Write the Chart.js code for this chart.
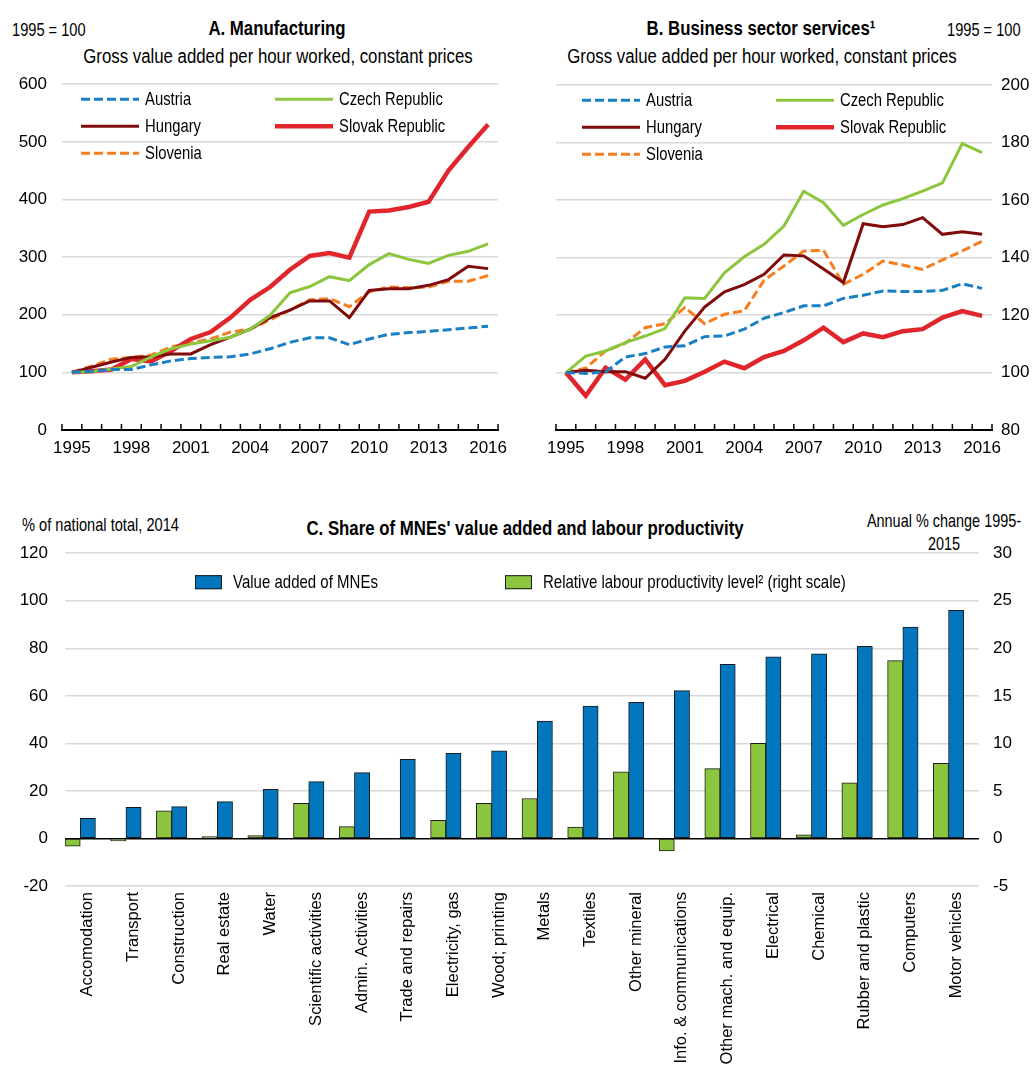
<!DOCTYPE html>
<html>
<head>
<meta charset="utf-8">
<script src="https://cdn.jsdelivr.net/npm/chart.js@4.4.1/dist/chart.umd.min.js"></script>
<style>
  body { margin: 0; background: #fff; width: 1035px; height: 1068px; position: relative; overflow: hidden;
         font-family: "Liberation Sans Narrow", "Arial Narrow", "Liberation Sans", Arial, sans-serif; color: #000; }
  .t { position: absolute; white-space: nowrap; font-size: 19px; line-height: 1;
       transform: scaleX(0.77); transform-origin: 0 50%; }
  .c { text-align: center; transform-origin: 50% 50%; }
  .b { font-weight: bold; font-size: 20px; transform: scaleX(0.84); }
  .s { font-size: 20px; transform: scaleX(0.84); }
  canvas { position: absolute; }
</style>
</head>
<body>
<div class="t" style="left:12px;top:20px">1995 = 100</div>
<div class="t c b" style="left:-23px;width:600px;top:18px">A. Manufacturing</div>
<div class="t c s" style="left:-22px;width:600px;top:46px">Gross value added per hour worked, constant prices</div>

<div class="t" style="left:947px;top:20px">1995 = 100</div>
<div class="t c b" style="left:461px;width:600px;top:18px">B. Business sector services¹</div>
<div class="t c s" style="left:462px;width:600px;top:46px">Gross value added per hour worked, constant prices</div>

<div class="t" style="left:22px;top:515px">% of national total, 2014</div>
<div class="t c b" style="left:175px;width:700px;top:518px">C. Share of MNEs' value added and labour productivity</div>
<div class="t c" style="left:794px;width:300px;top:509px;line-height:23px;transform:scaleX(0.76)">Annual % change 1995-<br>2015</div>

<canvas id="chartA" width="520" height="411" style="left:0;top:59px"></canvas>
<canvas id="chartB" width="515" height="404" style="left:520px;top:66px"></canvas>
<canvas id="chartC" width="1035" height="542" style="left:0;top:526px"></canvas>

<script>
// ---- data ----
const years = ['1995', '1996', '1997', '1998', '1999', '2000', '2001', '2002', '2003', '2004', '2005',
               '2006', '2007', '2008', '2009', '2010', '2011', '2012', '2013', '2014', '2015', '2016'];
const countries = ['Austria', 'Czech Republic', 'Hungary', 'Slovak Republic', 'Slovenia'];

// Panel A: manufacturing, 1995 = 100
const austriaA  = [100, 102, 105, 105, 113, 120, 124, 126, 127, 132, 141, 152, 160, 160, 148, 158, 166, 169, 171, 174, 177, 180];
const czechA    = [100, 101, 106, 110, 127, 141, 149, 155, 161, 175, 199, 238, 249, 266, 259, 287, 306, 296, 289, 303, 310, 323];
const hungaryA  = [100, 109, 118, 126, 127, 132, 132, 148, 161, 175, 195, 208, 224, 224, 195, 242, 245, 245, 251, 261, 284, 280];
const slovakA   = [100, 102, 105, 123, 119, 137, 158, 170, 195, 226, 248, 278, 302, 307, 299, 379, 381, 387, 396, 450, 491, 530];
const sloveniaA = [100, 111, 123, 126, 130, 144, 151, 158, 170, 175, 191, 208, 226, 228, 214, 240, 248, 247, 248, 258, 258, 268];

// Panel B: business sector services, 1995 = 100
const austriaB  = [100, 99.7, 100.2, 105.4, 106.6, 108.9, 109.3, 112.5, 112.7, 115.1, 118.9, 120.9, 123.2, 123.2, 125.8, 126.9, 128.4, 128.2, 128.2, 128.6, 130.9, 129.3];
const czechB    = [100, 105.7, 107.5, 110.4, 112.7, 115.3, 126, 125.8, 134.7, 140.3, 144.6, 151, 163.1, 159.1, 151.2, 155, 158.3, 160.5, 163.1, 166, 179.7, 176.5];
const hungaryB  = [100, 100.8, 100.3, 100.3, 98, 104.6, 114.4, 122.8, 128.1, 130.6, 134.2, 140.9, 140.6, 136, 131.3, 151.8, 150.7, 151.5, 153.9, 148.1, 149, 148.1];
const slovakB   = [100, 91.9, 101.7, 97.5, 104.6, 95.6, 97.1, 100.3, 103.8, 101.5, 105.4, 107.5, 111.2, 115.6, 110.6, 113.6, 112.3, 114.4, 115.1, 119.1, 121.4, 119.7];
const sloveniaB = [100, 101.5, 107.5, 110.2, 115.6, 117, 122.6, 117, 120.3, 121.5, 132.1, 137.1, 142.3, 142.5, 130.7, 134.2, 138.8, 137.4, 135.9, 139.2, 142.3, 145.7];

// Panel C
const sectors = ['Accomodation', 'Transport', 'Construction', 'Real estate', 'Water', 'Scientific activities',
                 'Admin. Activities', 'Trade and repairs', 'Electricity, gas', 'Wood; printing', 'Metals', 'Textiles',
                 'Other mineral', 'Info. & communications', 'Other mach. and equip.', 'Electrical', 'Chemical',
                 'Rubber and plastic', 'Computers', 'Motor vehicles'];
const mneValueAdded = [8.5, 13.1, 13.4, 15.5, 20.7, 23.9, 27.7, 33.3, 35.8, 36.9, 49.4, 55.7, 57.3, 62.2, 73.2, 76.4, 77.7, 80.8, 88.9, 96.0];
const productivityGrowth = [-0.8, -0.25, 2.9, 0.2, 0.3, 3.7, 1.25, 0.05, 1.9, 3.7, 4.2, 1.2, 7.0, -1.3, 7.35, 10.0, 0.38, 5.85, 18.7, 7.9];
const seriesC = ['Value added of MNEs', 'Relative labour productivity level² (right scale)'];

const yTicksA = [0, 100, 200, 300, 400, 500, 600];
const yTicksB = [80, 100, 120, 140, 160, 180, 200];

// ---- styles ----
const FONT = '"Liberation Sans Narrow", "Arial Narrow", "Liberation Sans", Arial, sans-serif';
const GRID = '#d9d9d9';
const TICK_SIZE = 17;
const lineStyles = [
  { borderColor: '#1a7fc3', borderWidth: 3, borderDash: [9, 4] },
  { borderColor: '#8cc63f', borderWidth: 3, borderDash: [] },
  { borderColor: '#7f0b0b', borderWidth: 3, borderDash: [] },
  { borderColor: '#e0262c', borderWidth: 4.5, borderDash: [] },
  { borderColor: '#f47e20', borderWidth: 3, borderDash: [9, 4] }
];

// draws text squeezed horizontally, to stand in for a narrow face
function narrowText(ctx, text, x, y, squeeze) {
  ctx.save();
  ctx.translate(x, y);
  ctx.scale(squeeze, 1);
  ctx.fillText(text, 0, 0);
  ctx.restore();
}

// legend drawn inside the plot area
const insideLegend = {
  id: 'insideLegend',
  afterDraw(chart, args, opts) {
    if (!opts.items) return;
    const ctx = chart.ctx;
    const area = chart.chartArea;
    ctx.save();
    ctx.font = opts.font;
    ctx.textBaseline = 'middle';
    ctx.fillStyle = '#000';
    opts.items.forEach(item => {
      const ds = chart.data.datasets[item.dataset];
      const x = area.left + item.dx;
      const y = area.top + item.dy;
      if (opts.type === 'box') {
        ctx.fillStyle = ds.backgroundColor;
        ctx.fillRect(x, y - 7, 27, 14);
        ctx.strokeStyle = '#1a1a1a';
        ctx.lineWidth = 1;
        ctx.strokeRect(x + 0.5, y - 6.5, 26, 13);
        ctx.fillStyle = '#000';
        narrowText(ctx, ds.label, x + 38, y + 1, 0.79);
      } else {
        ctx.strokeStyle = ds.borderColor;
        ctx.lineWidth = ds.borderWidth;
        ctx.setLineDash(ds.borderDash || []);
        ctx.beginPath();
        ctx.moveTo(x, y);
        ctx.lineTo(x + 58, y);
        ctx.stroke();
        ctx.setLineDash([]);
        narrowText(ctx, ds.label, x + 64, y + 1, 0.78);
      }
    });
    ctx.restore();
  }
};

// small tick marks pointing into the plot at category boundaries
const innerTicks = {
  id: 'innerTicks',
  afterDatasetsDraw(chart, args, opts) {
    if (!opts.enabled) return;
    const ctx = chart.ctx;
    const area = chart.chartArea;
    const n = chart.data.labels.length;
    ctx.save();
    ctx.strokeStyle = '#000';
    ctx.lineWidth = 1.5;
    ctx.beginPath();
    for (let i = 0; i <= n; i++) {
      const x = area.left + i * (area.right - area.left) / n;
      ctx.moveTo(x, area.bottom);
      ctx.lineTo(x, area.bottom - 6);
    }
    ctx.stroke();
    ctx.restore();
  }
};

function lineDatasets(seriesList) {
  return seriesList.map((data, i) => Object.assign({
    label: countries[i],
    data: data,
    fill: false,
    pointRadius: 0,
    tension: 0
  }, lineStyles[i]));
}

function lineChart(id, datasets, yOpts, pad, yWidth, legendLeft) {
  return new Chart(document.getElementById(id), {
    type: 'line',
    data: { labels: years, datasets: datasets },
    options: {
      responsive: false,
      animation: false,
      layout: { padding: pad },
      plugins: {
        legend: { display: false },
        tooltip: { enabled: false },
        innerTicks: { enabled: true },
        insideLegend: {
          font: '19px ' + FONT,
          items: [
            { dataset: 0, dx: legendLeft, dy: 15 },
            { dataset: 1, dx: legendLeft + 194, dy: 15 },
            { dataset: 2, dx: legendLeft, dy: 42 },
            { dataset: 3, dx: legendLeft + 194, dy: 42 },
            { dataset: 4, dx: legendLeft, dy: 69 }
          ]
        }
      },
      scales: {
        x: {
          offset: true,
          grid: { display: false, drawTicks: false },
          border: { display: true, color: '#000', width: 2 },
          ticks: {
            autoSkip: false, maxRotation: 0, padding: 8, color: '#000',
            font: { family: FONT, size: TICK_SIZE },
            callback: (v, i) => (i % 3 === 0 ? years[i] : '')
          },
          afterFit: s => { s.height = 40; }
        },
        y: Object.assign({
          grid: { color: GRID, lineWidth: 1.5, drawTicks: false },
          border: { display: false },
          afterFit: s => { s.width = yWidth; }
        }, yOpts)
      }
    },
    plugins: [insideLegend, innerTicks]
  });
}

lineChart('chartA', lineDatasets([austriaA, czechA, hungaryA, slovakA, sloveniaA]), {
  position: 'left', min: 0, max: 600,
  afterBuildTicks: s => { s.ticks = yTicksA.map(v => ({ value: v })); },
  ticks: { padding: 15, color: '#000', font: { family: FONT, size: TICK_SIZE } }
}, { top: 14, right: 22, left: 0, bottom: 0 }, 62, 19);

lineChart('chartB', lineDatasets([austriaB, czechB, hungaryB, slovakB, sloveniaB]), {
  position: 'right', min: 80, max: 200,
  afterBuildTicks: s => { s.ticks = yTicksB.map(v => ({ value: v })); },
  ticks: { padding: 9, color: '#000', font: { family: FONT, size: TICK_SIZE } }
}, { top: 14, right: 0, left: 36, bottom: 0 }, 43, 26);

// Panel C: bars, plus an empty third slot so each group sits at the left of its category
const emptySlot = sectors.map(() => null);
new Chart(document.getElementById('chartC'), {
  type: 'bar',
  data: {
    labels: sectors,
    datasets: [
      { label: seriesC[1], data: productivityGrowth, yAxisID: 'yR', backgroundColor: '#8cc63f',
        borderColor: '#1a1a1a', borderWidth: 1, borderSkipped: false },
      { label: seriesC[0], data: mneValueAdded, yAxisID: 'yL', backgroundColor: '#0277bd',
        borderColor: '#1a1a1a', borderWidth: 1, borderSkipped: false },
      { label: '', data: emptySlot, yAxisID: 'yL' }
    ]
  },
  options: {
    responsive: false,
    animation: false,
    categoryPercentage: 1,
    barPercentage: 1,
    layout: { padding: { top: 13, left: 0, right: 0, bottom: 0 } },
    plugins: {
      legend: { display: false },
      tooltip: { enabled: false },
      insideLegend: {
        type: 'box',
        font: '19px ' + FONT,
        items: [
          { dataset: 1, dx: 130, dy: 29 },
          { dataset: 0, dx: 440, dy: 29 }
        ]
      }
    },
    scales: {
      x: {
        grid: { display: false, drawTicks: false },
        border: { display: false },
        ticks: {
          autoSkip: false, minRotation: 90, maxRotation: 90, padding: 6, color: '#000',
          font: { family: '"Liberation Sans", Arial, sans-serif', size: 16.5 }
        },
        afterFit: s => { s.height = 182; }
      },
      yL: {
        position: 'left', min: -20, max: 120,
        ticks: { stepSize: 20, padding: 17, color: '#000', font: { family: FONT, size: TICK_SIZE } },
        grid: {
          drawTicks: false, lineWidth: 1.5,
          color: c => (c.tick && c.tick.value === 0 ? '#000' : GRID)
        },
        border: { display: false },
        afterFit: s => { s.width = 65; }
      },
      yR: {
        position: 'right', min: -5, max: 30,
        ticks: { stepSize: 5, padding: 14, color: '#000', font: { family: FONT, size: TICK_SIZE } },
        grid: { drawOnChartArea: false, drawTicks: false },
        border: { display: false },
        afterFit: s => { s.width = 56; }
      }
    }
  },
  plugins: [insideLegend]
});
</script>
</body>
</html>
